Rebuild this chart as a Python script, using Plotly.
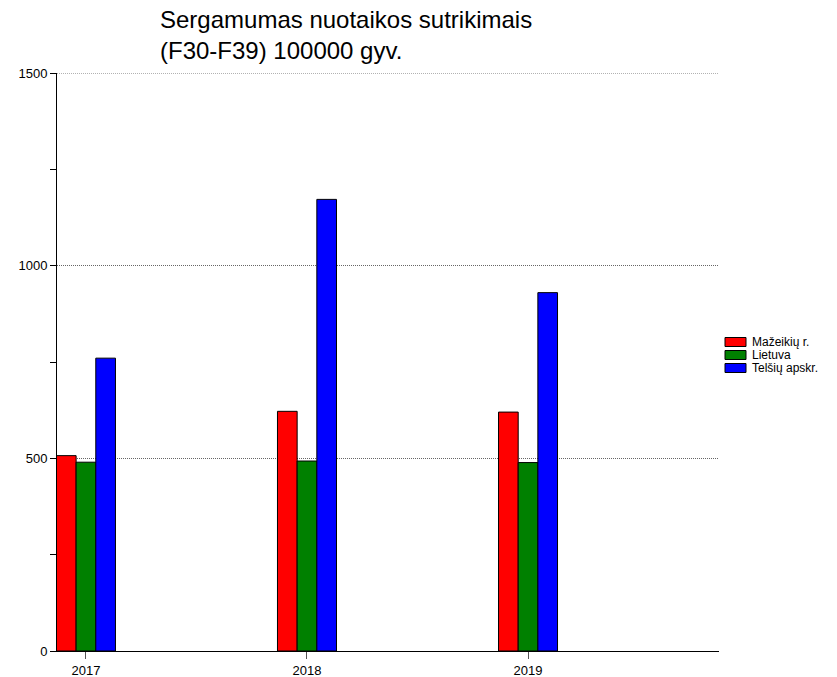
import plotly.graph_objects as go

years = ["2017", "2018", "2019"]
series_names = ["Mažeikių r.", "Lietuva", "Telšių apskr."]
mazeikiu = [507, 622, 620]
lietuva = [490, 493, 489]
telsiu = [760, 1172, 930]
colors = ["#ff0000", "#008000", "#0000ff"]
y_ticks = [0, 500, 1000, 1500]

W, H = 837, 677
L, R, T, B = 57, 118, 73, 26
PW, PH = W - L - R, H - T - B

positions = list(range(len(years)))
fig = go.Figure()
for name, vals, col in zip(series_names, [mazeikiu, lietuva, telsiu], colors):
    fig.add_trace(go.Bar(
        x=positions, y=vals, name=name, showlegend=False,
        marker=dict(color=col, line=dict(color="black", width=1)),
    ))

font = "Arial, Liberation Sans, sans-serif"

def px_x(px):
    return (px - L) / PW

def px_y(py):
    return (H - B - py) / PH

# legend drawn manually for tight spacing
for i, (name, col) in enumerate(zip(series_names, colors)):
    cy = 342 + 13 * i
    fig.add_shape(type="rect", xref="paper", yref="paper",
                  x0=px_x(725), x1=px_x(746), y0=px_y(cy + 4.5), y1=px_y(cy - 4.5),
                  fillcolor=col, line=dict(color="black", width=1))
    fig.add_annotation(text=name, xref="paper", yref="paper",
                       x=px_x(751), y=px_y(cy), xanchor="left", yanchor="middle",
                       showarrow=False, font=dict(size=12, family=font, color="black"),
                       borderpad=0)

fig.add_annotation(
    text="Sergamumas nuotaikos sutrikimais<br>(F30-F39) 100000 gyv.",
    xref="paper", yref="paper", x=px_x(159), y=px_y(35),
    xanchor="left", yanchor="middle", align="left", showarrow=False,
    font=dict(size=24, family=font, color="black"), borderpad=0,
)

grid_col = "#666"
fig.update_layout(
    width=W, height=H,
    margin=dict(l=L, r=R, t=T, b=B, autoexpand=False),
    paper_bgcolor="white", plot_bgcolor="white",
    barmode="group", bargap=0.733, bargroupgap=0,
    font=dict(family=font, size=13, color="black"),
    showlegend=False,
    xaxis=dict(
        range=[-0.131, 2.864], automargin=False,
        tickmode="array", tickvals=positions, ticktext=years,
        ticks="outside", ticklen=7, tickcolor="#555",
        showline=True, linecolor="black", linewidth=1,
        showgrid=False, zeroline=False,
        tickfont=dict(size=13),
    ),
    yaxis=dict(
        range=[0, 1500], automargin=False,
        tickmode="array", tickvals=y_ticks,
        ticks="outside", ticklen=6, tickcolor="black",
        showline=True, linecolor="black", linewidth=1,
        showgrid=True, gridcolor=grid_col, griddash="1px,1px", gridwidth=1,
        zeroline=False,
        minor=dict(ticks="outside", ticklen=6, dtick=250, tickcolor="black", showgrid=False),
        tickfont=dict(size=13),
    ),
)
fig.add_shape(type="line", xref="paper", yref="y", x0=0, x1=1, y0=1500, y1=1500,
              line=dict(color=grid_col, width=1, dash="1px,1px"), layer="below")

fig.write_html(
    "out.html",
    config={"displayModeBar": False},
    post_script="document.body.style.margin='0px';document.body.style.overflow='hidden';",
)
